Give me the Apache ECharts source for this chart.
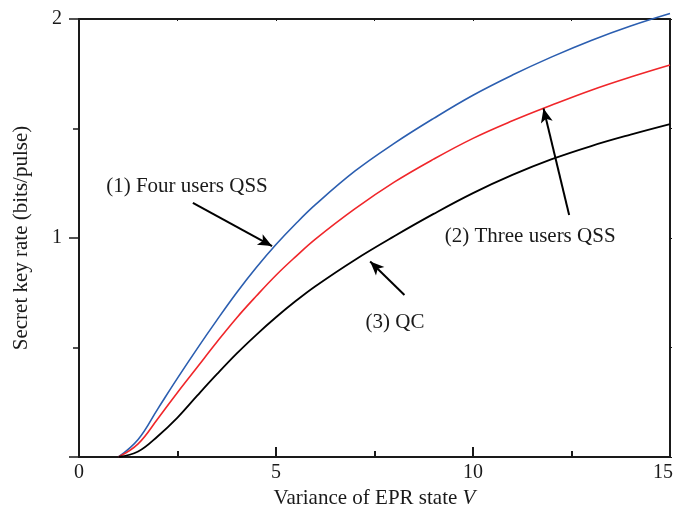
<!DOCTYPE html>
<html>
<head>
<meta charset="utf-8">
<script src="https://cdn.jsdelivr.net/npm/echarts@6/dist/echarts.min.js"></script>
<style>html,body{margin:0;padding:0;background:#fff}#c{width:678px;height:512px}</style>
</head>
<body>
<div id="c"></div>
<script>
// Variance V sample points
var vValues = [1, 1.5, 2, 2.5, 3, 3.5, 4, 4.5, 5, 5.5, 6, 7, 8, 9, 10, 11, 12, 13, 14, 15];
// (1) Four users QSS
var fourUsersQSS = [0, 0.08, 0.22, 0.36, 0.495, 0.625, 0.75, 0.865, 0.97, 1.065, 1.152, 1.305, 1.432, 1.546, 1.652, 1.744, 1.827, 1.902, 1.968, 2.025];
// (2) Three users QSS
var threeUsersQSS = [0, 0.06, 0.175, 0.295, 0.41, 0.525, 0.635, 0.735, 0.83, 0.915, 0.995, 1.133, 1.255, 1.36, 1.455, 1.535, 1.607, 1.675, 1.735, 1.79];
// (3) QC
var qc = [0, 0.025, 0.095, 0.18, 0.28, 0.378, 0.472, 0.558, 0.638, 0.712, 0.78, 0.9, 1.008, 1.11, 1.205, 1.288, 1.36, 1.42, 1.472, 1.52];

var xTicks = [0, 5, 10, 15];
var yTickLabels = [1, 2];

// annotation texts (data coords of label centres)
var annoTexts = ['(1) Four users QSS', '(2) Three users QSS', '(3) QC'];
var annoTextPos = [[2.74, 1.233], [11.45, 1.005], [8.02, 0.616]];
// arrows: [from, to] in data coords
var arrowFrom = [[2.89, 1.16], [12.44, 1.105], [8.26, 0.74]];
var arrowTo = [[4.90, 0.963], [11.79, 1.591], [7.39, 0.893]];

function pairs(xs, ys) { return xs.map(function (x, i) { return [x, ys[i]]; }); }

var font = 'Liberation Serif, Times New Roman, serif';
var axisColor = '#1a1a1a';
var textColor = '#1a1a1a';

var chart = echarts.init(document.getElementById('c'), null, { renderer: 'canvas' });
var option = {
  animation: false,
  backgroundColor: '#fff',
  grid: { left: 79, right: 8, top: 19, bottom: 55, outerBoundsMode: 'none', containLabel: false },
  xAxis: [{
    type: 'value', min: 0, max: 15, interval: 5,
    name: 'Variance of EPR state {i|V}', nameLocation: 'middle', nameGap: 30,
    nameTextStyle: { fontFamily: font, fontSize: 21, color: textColor,
      rich: { i: { fontFamily: font, fontStyle: 'italic', fontSize: 21, color: textColor } } },
    axisLine: { show: true, onZero: false, lineStyle: { color: axisColor, width: 2 } },
    axisTick: { show: true, inside: true, length: 10, lineStyle: { color: axisColor, width: 2 } },
    minorTick: { show: true, splitNumber: 2, length: 6, lineStyle: { color: axisColor, width: 2 } },
    axisLabel: { fontFamily: font, fontSize: 20, color: textColor, margin: 6,
      rich: { r: { fontFamily: font, fontSize: 20, color: textColor, padding: [0, 14, 0, 0] } },
      formatter: function (v) {
        if (xTicks.indexOf(v) < 0) return '';
        return v === xTicks[xTicks.length - 1] ? '{r|' + v + '}' : String(v);
      } },
    splitLine: { show: false }
  }, {
    type: 'value', min: 0, max: 15, interval: 2.5, position: 'top',
    axisLine: { show: true, onZero: false, lineStyle: { color: axisColor, width: 2 } },
    axisTick: { show: true, inside: true, length: 2, lineStyle: { color: axisColor, width: 1 } },
    axisLabel: { show: false }, splitLine: { show: false }
  }],
  yAxis: [{
    type: 'value', min: 0, max: 2, interval: 1,
    name: 'Secret key rate (bits/pulse)', nameLocation: 'middle', nameGap: 47,
    nameTextStyle: { fontFamily: font, fontSize: 21, color: textColor },
    axisLine: { show: true, onZero: false, lineStyle: { color: axisColor, width: 2 } },
    axisTick: { show: true, inside: false, length: 10, lineStyle: { color: axisColor, width: 1.5 } },
    minorTick: { show: true, splitNumber: 2, length: 6, lineStyle: { color: axisColor, width: 1.5 } },
    axisLabel: { fontFamily: font, fontSize: 20, color: textColor, margin: 17,
      formatter: function (v) { return yTickLabels.indexOf(v) >= 0 ? String(v) : ''; } },
    splitLine: { show: false }
  }, {
    type: 'value', min: 0, max: 2, interval: 0.5, position: 'right',
    axisLine: { show: true, onZero: false, lineStyle: { color: axisColor, width: 2 } },
    axisTick: { show: true, inside: false, length: 2, lineStyle: { color: axisColor, width: 1 } },
    axisLabel: { show: false }, splitLine: { show: false }
  }],
  series: [{
    name: '(1) Four users QSS', type: 'line', data: pairs(vValues, fourUsersQSS),
    smooth: 0.4, showSymbol: false, clip: false,
    lineStyle: { color: '#2b5eb0', width: 1.6 }
  }, {
    name: '(2) Three users QSS', type: 'line', data: pairs(vValues, threeUsersQSS),
    smooth: 0.4, showSymbol: false, clip: false,
    lineStyle: { color: '#f0262a', width: 1.6 }
  }, {
    name: '(3) QC', type: 'line', data: pairs(vValues, qc),
    smooth: 0.4, showSymbol: false, clip: false,
    lineStyle: { color: '#000', width: 1.8 }
  }, {
    name: 'arrows', type: 'line', data: [], silent: true,
    markLine: {
      silent: true, symbol: ['none', 'arrow'], symbolSize: [9, 14],
      label: { show: false },
      lineStyle: { color: '#000', width: 2, type: 'solid' },
      data: arrowFrom.map(function (f, i) { return [{ coord: f }, { coord: arrowTo[i] }]; })
    }
  }, {
    name: 'labels', type: 'scatter', symbolSize: 0, silent: true,
    itemStyle: { color: textColor, opacity: 1 },
    data: annoTextPos.map(function (p, i) { return { value: p, name: annoTexts[i] }; }),
    label: { show: true, position: 'inside', formatter: function (p) { return p.name; },
      fontFamily: font, fontSize: 21, color: textColor, textBorderWidth: 0, textBorderColor: 'transparent' }
  }]
};
chart.setOption(option);
</script>
</body>
</html>
